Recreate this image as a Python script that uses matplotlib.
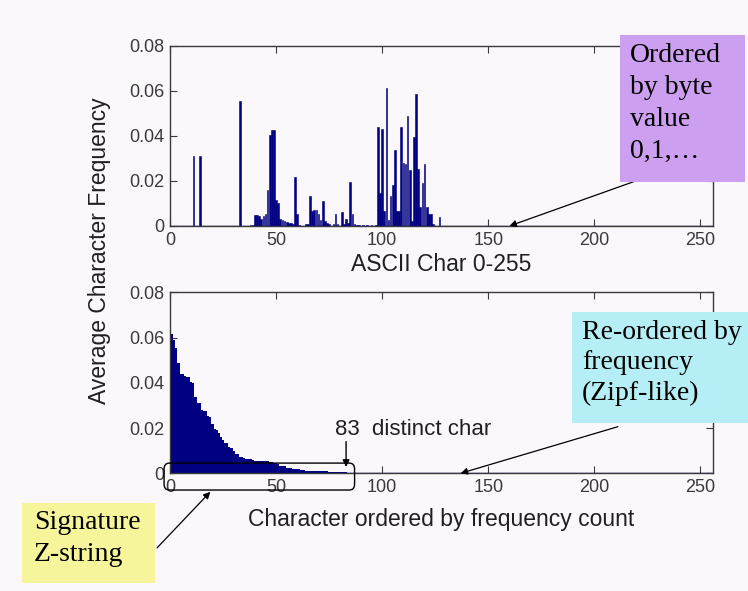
import numpy as np
import matplotlib
matplotlib.use('Agg')
import matplotlib.pyplot as plt
from matplotlib.patches import FancyBboxPatch, Rectangle

# byte position (1-based, MATLAB style) and average frequency of the 83 chars seen
char_index = [11, 14, 33, 38, 39, 40, 41, 42, 43, 44, 45, 46, 47, 48, 49, 50,
              51, 52, 53, 54, 55, 56, 57, 58, 59, 60, 61, 64, 65, 66, 67, 68,
              69, 70, 71, 72, 73, 74, 75, 77, 78, 79, 81, 82, 83, 84, 85, 86,
              87, 88, 89, 91, 93, 95, 97, 98, 99, 100, 101, 102, 103, 104, 105,
              106, 107, 108, 109, 110, 111, 112, 113, 114, 115, 116, 117, 118,
              119, 120, 121, 122, 123, 124, 127]
char_freq = [0.0310, 0.0310, 0.0555, 0.0005, 0.0006, 0.0049, 0.0049, 0.0045,
             0.0030, 0.0045, 0.0055, 0.0160, 0.0405, 0.0427, 0.0427, 0.0115,
             0.0100, 0.0030, 0.0025, 0.0020, 0.0018, 0.0015, 0.0012, 0.0010,
             0.0216, 0.0055, 0.0006, 0.0008, 0.0010, 0.0133, 0.0067, 0.0070,
             0.0070, 0.0055, 0.0025, 0.0112, 0.0020, 0.0015, 0.0010, 0.0008,
             0.0055, 0.0008, 0.0060, 0.0010, 0.0030, 0.0012, 0.0194, 0.0055,
             0.0010, 0.0005, 0.0006, 0.0004, 0.0005, 0.0004, 0.0006, 0.0439,
             0.0145, 0.0431, 0.0065, 0.0615, 0.0025, 0.0133, 0.0180, 0.0338,
             0.0065, 0.0065, 0.0439, 0.0279, 0.0277, 0.0489, 0.0249, 0.0020,
             0.0397, 0.0587, 0.0255, 0.0085, 0.0190, 0.0276, 0.0085, 0.0055,
             0.0055, 0.0010, 0.0040]

x_ticks = [0, 50, 100, 150, 200, 250]
y_ticks = [0, 0.02, 0.04, 0.06, 0.08]
y_tick_labels = ['0', '0.02', '0.04', '0.06', '0.08']

NAVY = '#000080'
BG = '#fbf8fc'
GREY = '#3a3a3a'

# re-ordered by frequency: same values, sorted high -> low
sorted_freq = np.sort(np.asarray(char_freq))[::-1]
sorted_index = np.arange(1, len(sorted_freq) + 1)

plt.rcParams['font.family'] = ['Liberation Sans', 'DejaVu Sans']

fig = plt.figure(figsize=(7.48, 5.91), dpi=100, facecolor=BG)
ax1 = fig.add_axes([0.2273, 0.6176, 0.726, 0.3046])
ax2 = fig.add_axes([0.2273, 0.1992, 0.726, 0.3063])

for ax in (ax1, ax2):
    ax.set_facecolor(BG)
    ax.axhline(0, color=NAVY, linewidth=1.0, zorder=1)
    ax.set_xlim(0, 256)
    ax.set_ylim(0, 0.08)
    ax.set_xticks(x_ticks)
    ax.set_yticks(y_ticks)
    ax.set_yticklabels(y_tick_labels)
    ax.tick_params(direction='in', length=5, top=True, right=True,
                   labelsize=13, colors=GREY, pad=4)
    for s in ax.spines.values():
        s.set_color(GREY)
        s.set_linewidth(1.0)

ax1.bar(char_index, char_freq, width=0.8, color=NAVY, edgecolor=NAVY,
        linewidth=0.4, zorder=2)
ax1.set_xlabel('ASCII Char 0-255', fontsize=16.5, color='#202020', labelpad=3)

ax2.bar(sorted_index, sorted_freq, width=1.0, color=NAVY, linewidth=0,
        antialiased=False, zorder=2)
ax2.set_xlabel('Character ordered by frequency count', fontsize=16.5,
               color='#202020', labelpad=9)

fig.text(0.133, 0.575, 'Average Character Frequency', rotation=90,
         ha='center', va='center', fontsize=16.5, color='#202020')

# rounded box around the 83 distinct chars
rect = FancyBboxPatch((-2.8, -0.0074), 89.8, 0.0119,
                      boxstyle='round,pad=0,rounding_size=2.5',
                      mutation_aspect=0.00105, transform=ax2.transData,
                      facecolor='none', edgecolor='black', linewidth=1.0,
                      clip_on=False, zorder=4)
ax2.add_patch(rect)

ax2.annotate('', xy=(83, 0.0028), xytext=(83, 0.0140),
             arrowprops=dict(arrowstyle='-|>', color='black', lw=1.0,
                             mutation_scale=10, shrinkA=0, shrinkB=0))
ax2.text(78, 0.0195, '83  distinct char', fontsize=16, color='#202020',
         ha='left', va='center')

serif = ['Liberation Serif', 'DejaVu Serif']

# coloured call-out boxes (figure fraction)
fig.patches.append(Rectangle((0.829, 0.692), 0.167, 0.249, facecolor='#cc9ff0',
                             edgecolor='none', transform=fig.transFigure,
                             zorder=0))
fig.patches.append(Rectangle((0.765, 0.284), 0.235, 0.188, facecolor='#b6eef5',
                             edgecolor='none', transform=fig.transFigure,
                             zorder=0))
fig.patches.append(Rectangle((0.029, 0.0135), 0.178, 0.135, facecolor='#f7f59c',
                             edgecolor='none', transform=fig.transFigure,
                             zorder=0))

fig.text(0.842, 0.928, 'Ordered\nby byte\nvalue\n0,1,\u2026', family=serif,
         fontsize=20, linespacing=1.38, ha='left', va='top')
ax1.annotate('', xy=(160, 0.0), xycoords='data',
             xytext=(0.848, 0.693), textcoords='figure fraction',
             arrowprops=dict(arrowstyle='-|>', color='black', lw=0.9,
                             mutation_scale=10, shrinkA=0, shrinkB=0))

fig.text(0.778, 0.459, 'Re-ordered by\nfrequency\n(Zipf-like)', family=serif,
         fontsize=20, linespacing=1.3, ha='left', va='top')
ax2.annotate('', xy=(137, 0.0), xycoords='data',
             xytext=(0.826, 0.278), textcoords='figure fraction',
             arrowprops=dict(arrowstyle='-|>', color='black', lw=0.9,
                             mutation_scale=10, shrinkA=0, shrinkB=0))

fig.text(0.045, 0.137, 'Signature\nZ-string', family=serif,
         fontsize=20, linespacing=1.38, ha='left', va='top')
ax2.annotate('', xy=(19, -0.0082), xycoords='data',
             xytext=(0.21, 0.073), textcoords='figure fraction',
             arrowprops=dict(arrowstyle='-|>', color='black', lw=0.9,
                             mutation_scale=10, shrinkA=0, shrinkB=0),
             annotation_clip=False)

fig.savefig('out.png', dpi=100, facecolor=BG)
